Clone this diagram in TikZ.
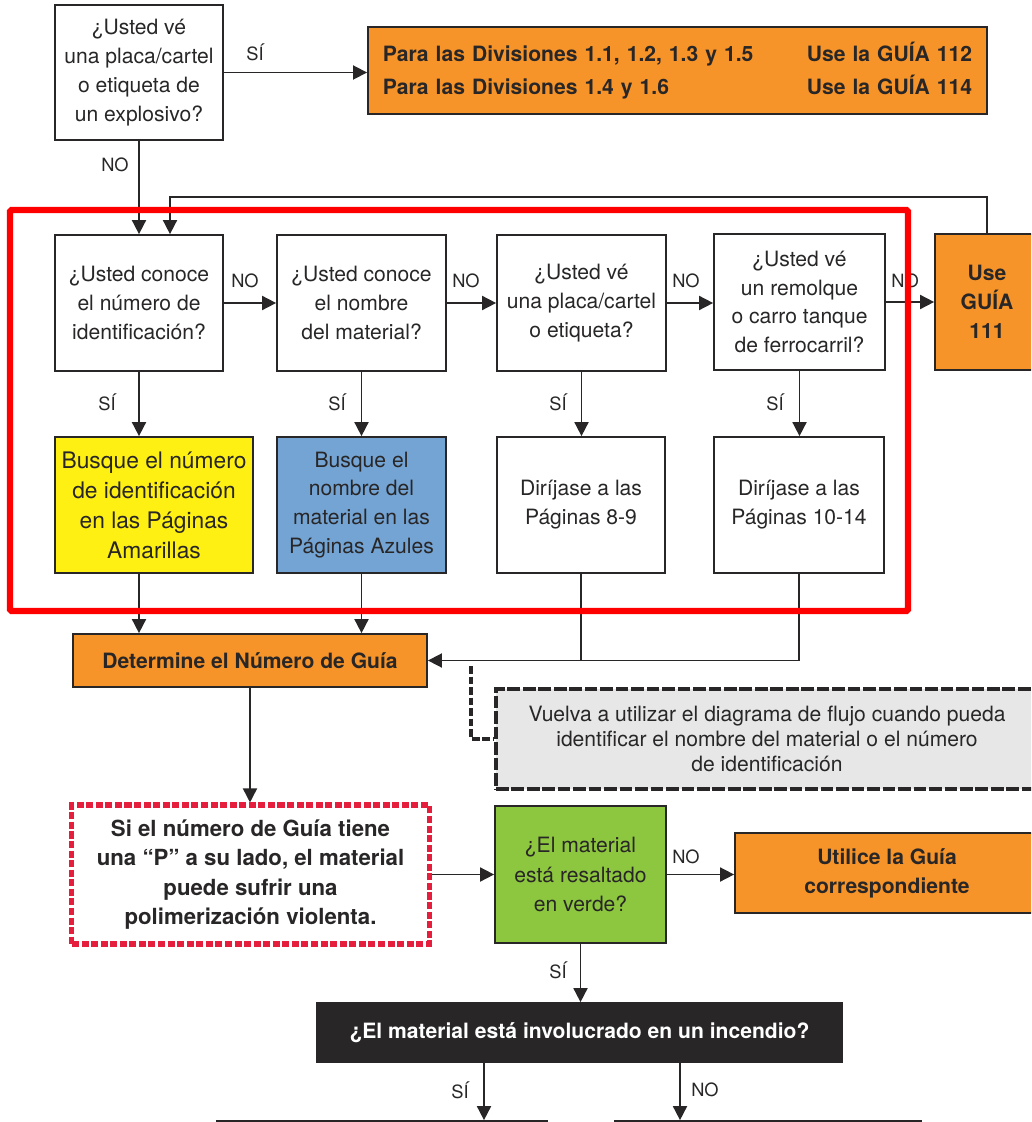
\documentclass[tikz,border=0pt]{standalone}
\usepackage{fontspec}
\setmainfont{TeX Gyre Heros}
\usetikzlibrary{arrows.meta}
\usetikzlibrary{positioning}
\definecolor{custom-orange}{RGB}{247, 148, 41}
\definecolor{custom-yellow}{RGB}{255, 240, 20}
\definecolor{custom-blue}{RGB}{116, 164, 212}
\definecolor{custom-green}{RGB}{141, 198, 63}
\definecolor{custom-gray}{RGB}{231, 231, 231}
\definecolor{custom-red}{RGB}{255, 0, 0}
\definecolor{custom-crimson}{RGB}{228, 30, 60}
\definecolor{custom-ink}{RGB}{40, 38, 38}

\begin{document}
\begin{tikzpicture}[x=0.025cm, y=-0.025cm,
        box/.style={draw=custom-ink, line width=1.2pt, inner sep=0pt, align=center, text=custom-ink, font=\fontsize{15}{20.5}\selectfont},
        boldbox/.style={box, font=\fontsize{15}{20.5}\selectfont\bfseries},
        arr/.style={draw=custom-ink, line width=1.2pt, -{Triangle[length=10pt, width=10pt]}},
        lbl/.style={inner sep=0pt, text=custom-ink, font=\fontsize{13}{13}\selectfont}]
                \useasboundingbox (0, 0) rectangle (1031, 1122);
                \clip (0, 0) rectangle (1031, 1122);
                \node[box, minimum width=4.2cm, minimum height=3.375cm] (expl) at (139, 72.5) {¿Usted vé\\una placa/cartel\\o etiqueta de\\un explosivo?};
                \node[boldbox, fill=custom-orange, minimum width=15.475cm, minimum height=2.175cm, text width=14.725cm, align=left, font=\fontsize{15}{23.4}\selectfont\bfseries] (div) at (677.5, 70.5) {Para las Divisiones 1.1, 1.2, 1.3 y 1.5\hfill Use la GUÍA 112\\Para las Divisiones 1.4 y 1.6\hfill Use la GUÍA 114};
                \node[box, minimum width=4.2cm, minimum height=3.4cm] (idnum) at (139, 303) {¿Usted conoce\\el número de\\identificación?};
                \node[box, minimum width=4.225cm, minimum height=3.4cm] (name) at (361.5, 303) {¿Usted conoce\\el nombre\\del material?};
                \node[box, minimum width=4.225cm, minimum height=3.4cm] (plac) at (581.5, 303) {¿Usted vé\\una placa/cartel\\o etiqueta?};
                \node[box, minimum width=4.275cm, minimum height=3.4cm] (trail) at (799.5, 302) {¿Usted vé\\un remolque\\o carro tanque\\de ferrocarril?};
                \node[boldbox, fill=custom-orange, minimum width=2.6cm, minimum height=3.4cm] (g111) at (987, 302) {Use\\GUÍA\\111};
                \node[box, fill=custom-yellow, minimum width=4.95cm, minimum height=3.4cm, font=\fontsize{16.2}{21.3}\selectfont] (yellow) at (154, 505) {Busque el número\\de identificación\\en las Páginas\\Amarillas};
                \node[box, fill=custom-blue, minimum width=4.225cm, minimum height=3.4cm] (blue) at (361.5, 505) {Busque el\\nombre del\\material en las\\Páginas Azules};
                \node[box, minimum width=4.2cm, minimum height=3.4cm] (pg89) at (581, 505) {Diríjase a las\\Páginas 8-9};
                \node[box, minimum width=4.25cm, minimum height=3.4cm] (pg1014) at (799, 505) {Diríjase a las\\Páginas 10-14};
                \node[boldbox, fill=custom-orange, minimum width=8.85cm, minimum height=1.325cm] (guide) at (250, 660.5) {Determine el Número de Guía};
                \node[box, fill=custom-gray, line width=2.6pt, dash pattern=on 9pt off 2pt, minimum width=13.55cm, minimum height=2.5cm, font=\fontsize{15}{18}\selectfont] (again) at (767, 739) {Vuelva a utilizar el diagrama de flujo cuando pueda\\identificar el nombre del material o el número\\de identificación};
                \node[boldbox, draw=custom-crimson, line width=3.6pt, dash pattern=on 5pt off 1.8pt, minimum width=8.925cm, minimum height=3.475cm, font=\fontsize{15.8}{21}\selectfont\bfseries] (poly) at (250.5, 874.5) {Si el número de Guía tiene\\una “P” a su lado, el material\\puede sufrir una\\polimerización violenta.};
                \node[box, fill=custom-green, minimum width=4.275cm, minimum height=3.425cm, font=\fontsize{15}{21}\selectfont] (green) at (580.5, 874.5) {¿El material\\está resaltado\\en verde?};
                \node[boldbox, fill=custom-orange, minimum width=7.6cm, minimum height=2cm] (apply) at (887, 873) {Utilice la Guía\\correspondiente};
                \node[boldbox, fill=custom-ink, text=white, minimum width=13.125cm, minimum height=1.475cm] (fire) at (579.5, 1032.5) {¿El material está involucrado en un incendio?};
                \node[box, minimum width=8.25cm, minimum height=2cm] (yesfire) at (382, 1161) {};
                \node[box, minimum width=7.65cm, minimum height=2cm] (nofire) at (768, 1161) {};
                \draw[arr] (expl.east) -- (expl.east -| div.west);
                \node[lbl] (l0) at (255, 52) {SÍ};
                \draw[arr] (expl.south) -- (idnum.north);
                \node[lbl] (l1) at (115, 165) {NO};
                \coordinate (back) at (170, 197);
                \draw[arr] (g111.north) |- (back) -- (back |- idnum.north);
                \draw[arr] (idnum.east) -- (name.west);
                \draw[arr] (name.east) -- (plac.west);
                \draw[arr] (plac.east) -- (plac.east -| trail.west);
                \draw[arr] (trail.east) -- (g111.west);
                \node[lbl] (l2) at (245, 281) {NO};
                \node[lbl] (l3) at (466, 281) {NO};
                \node[lbl] (l4) at (686, 281) {NO};
                \node[lbl] (l5) at (905, 281) {NO};
                \draw[arr] (idnum.south) -- (idnum.south |- yellow.north);
                \draw[arr] (name.south) -- (blue.north);
                \draw[arr] (plac.south) -- (plac.south |- pg89.north);
                \draw[arr] (trail.south) -- (trail.south |- pg1014.north);
                \node[lbl] (l6) at (107, 402) {SÍ};
                \node[lbl] (l7) at (337, 402) {SÍ};
                \node[lbl] (l8) at (558, 402) {SÍ};
                \node[lbl] (l9) at (775, 402) {SÍ};
                \draw[arr] (idnum.south |- yellow.south) -- (idnum.south |- guide.north);
                \draw[arr] (blue.south) -- (blue.south |- guide.north);
                \draw[draw=custom-ink, line width=1.2pt] (pg89.south) -- (pg89.south |- guide.east);
                \draw[arr] (pg1014.south) |- (guide.east);
                \coordinate (hint) at (471, 666);
                \draw[draw=custom-ink, line width=2.6pt, dash pattern=on 5.5pt off 2pt] (hint) |- (again.west);
                \draw[arr] (guide.south) -- (guide.south |- poly.north);
                \draw[arr] (poly.east) -- (green.west);
                \draw[arr] (green.east) -- (green.east -| apply.west);
                \node[lbl] (l10) at (686, 857) {NO};
                \draw[arr] (green.south) -- (green.south |- fire.north);
                \node[lbl] (l11) at (558, 970) {SÍ};
                \coordinate (fireyes) at (484, 1062);
                \coordinate (fireno) at (680, 1062);
                \draw[arr] (fireyes) -- (fireyes |- yesfire.north);
                \draw[arr] (fireno) -- (fireno |- nofire.north);
                \node[lbl] (l12) at (460, 1090) {SÍ};
                \node[lbl] (l13) at (705, 1090) {NO};
                \draw[custom-red, line width=4.3pt, rounded corners=1pt] (10, 210) rectangle (908, 611);
            \end{tikzpicture}
\end{document}
